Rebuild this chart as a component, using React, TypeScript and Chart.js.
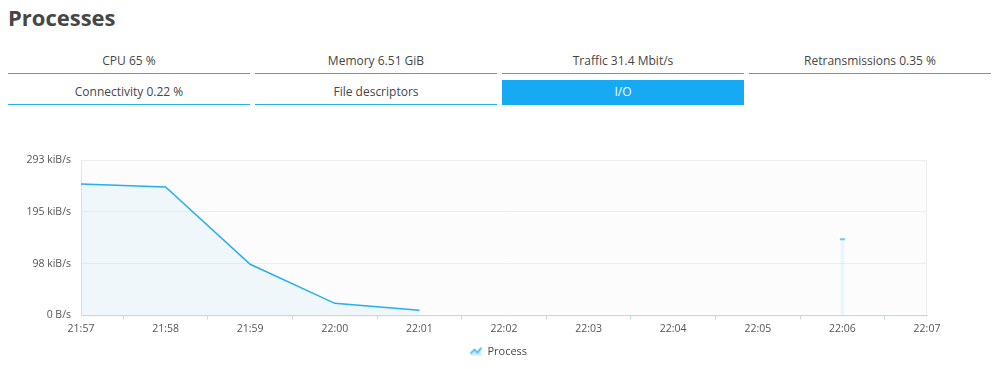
import React, { useEffect, useRef } from "react";
import { Chart, registerables } from "chart.js";

Chart.register(...registerables);

const tabsRow1 = ["CPU 65 %", "Memory 6.51 GiB", "Traffic 31.4 Mbit/s", "Retransmissions 0.35 %"];
const tabsRow2 = ["Connectivity 0.22 %", "File descriptors", "I/O"];
const activeTab = "I/O";

const timeLabels = ["21:57", "21:58", "21:59", "22:00", "22:01", "22:02", "22:03", "22:04", "22:05", "22:06", "22:07"];
const processValues: (number | null)[] = [247.6, 242, 96.4, 22.7, 9.5, null, null, null, null, 143.7, null];
const yTickValues = [0, 97.67, 195.33, 293];
const yTickLabels = ["0 B/s", "98 kiB/s", "195 kiB/s", "293 kiB/s"];
const seriesName = "Process";

const FONT = "'Open Sans', 'Noto Sans', sans-serif";
const BLUE = "#27aef0";

function makeLegendIcon() {
  const c = document.createElement("canvas");
  c.width = 14;
  c.height = 10;
  const g = c.getContext("2d")!;
  g.fillStyle = "rgba(39,174,240,0.25)";
  g.beginPath();
  g.moveTo(1, 9);
  g.lineTo(1, 7);
  g.lineTo(5, 3);
  g.lineTo(8, 6);
  g.lineTo(12, 1);
  g.lineTo(12, 9);
  g.closePath();
  g.fill();
  g.strokeStyle = BLUE;
  g.lineWidth = 1.3;
  g.beginPath();
  g.moveTo(1, 7);
  g.lineTo(5, 3);
  g.lineTo(8, 6);
  g.lineTo(12, 1);
  g.stroke();
  return c;
}

const areaPlugin = {
  id: "areaBg",
  beforeDraw(chart: any) {
    const { ctx, chartArea } = chart;
    if (!chartArea) return;
    ctx.save();
    ctx.fillStyle = "#fcfcfc";
    ctx.fillRect(chartArea.left, chartArea.top, chartArea.right - chartArea.left, chartArea.bottom - chartArea.top);
    ctx.strokeStyle = "#eeeeee";
    ctx.lineWidth = 1;
    ctx.strokeRect(chartArea.left + 0.5, chartArea.top + 0.5, chartArea.right - chartArea.left - 1, chartArea.bottom - chartArea.top);
    ctx.restore();
  },
};

function isolated(i: number) {
  const v = processValues[i];
  const prev = i > 0 ? processValues[i - 1] : null;
  const next = i < processValues.length - 1 ? processValues[i + 1] : null;
  return v !== null && prev === null && next === null;
}

function ChartView() {
  const ref = useRef<HTMLCanvasElement | null>(null);
  useEffect(() => {
    if (!ref.current) return;
    const icon = makeLegendIcon();
    const chart = new Chart(ref.current, {
      type: "line",
      data: {
        labels: timeLabels,
        datasets: [
          {
            type: "line",
            label: seriesName,
            data: processValues,
            borderColor: BLUE,
            borderWidth: 1.5,
            backgroundColor: "rgba(39,174,240,0.06)",
            fill: "origin",
            tension: 0,
            spanGaps: false,
            pointRadius: processValues.map((_v, i) => (isolated(i) ? 2.5 : 0)),
            pointStyle: "line",
            pointBorderColor: "#6cc6f4",
            pointBorderWidth: 2,
            pointHoverRadius: 0,
          } as any,
          {
            type: "bar",
            label: "_isolated",
            data: processValues.map((v, i) => (isolated(i) ? v : null)),
            backgroundColor: "rgba(39,174,240,0.08)",
            barThickness: 3,
          } as any,
        ],
      },
      options: {
        animation: false,
        responsive: false,
        maintainAspectRatio: false,
        layout: { padding: { left: 0, right: 0, top: 38, bottom: 4 } },
        plugins: {
          tooltip: { enabled: false },
          legend: {
            position: "bottom",
            labels: {
              usePointStyle: true,
              font: { family: FONT, size: 11 },
              color: "#454646",
              padding: 8,
              generateLabels: () => [
                {
                  text: seriesName,
                  pointStyle: icon,
                  fillStyle: BLUE,
                  strokeStyle: BLUE,
                  lineWidth: 0,
                  fontColor: "#454646",
                  datasetIndex: 0,
                  hidden: false,
                } as any,
              ],
            },
          },
        },
        scales: {
          x: {
            type: "category",
            offset: false,
            grid: {
              drawOnChartArea: false,
              drawTicks: true,
              tickLength: 4,
              color: "#ccd6eb",
            },
            border: { color: "#ccd6eb", width: 1 },
            ticks: {
              color: "#555555",
              font: { family: FONT, size: 10.5 },
              maxRotation: 0,
              autoSkip: false,
              padding: 3,
            },
          },
          y: {
            min: 0,
            max: 293,
            afterBuildTicks: (axis: any) => {
              axis.ticks = yTickValues.map((v) => ({ value: v }));
            },
            afterFit: (axis: any) => {
              axis.width = 81;
            },
            grid: { color: "#eeeeee", drawTicks: false },
            border: { display: true, color: "#dfe5f0" },
            ticks: {
              color: "#555555",
              font: { family: FONT, size: 10.5 },
              padding: 10,
              callback: (_v: any, i: number) => yTickLabels[i],
            },
          },
          yRight: {
            position: "right",
            min: 0,
            max: 293,
            afterFit: (axis: any) => {
              axis.width = 71;
            },
            grid: { display: false, drawOnChartArea: false },
            border: { display: false },
            ticks: { display: false },
          },
        },
      },
      plugins: [areaPlugin],
    });
    return () => chart.destroy();
  }, []);
  return <canvas ref={ref} width={998} height={249} style={{ display: "block" }} />;
}

function Tab({ label }: { label: string }) {
  const active = label === activeTab;
  return (
    <div
      style={{
        flex: "0 0 242px",
        height: 25,
        lineHeight: "24px",
        textAlign: "center",
        fontSize: 12,
        color: active ? "#ffffff" : "#454646",
        background: active ? "#16a9f4" : "transparent",
        borderBottom: active ? "1px solid #16a9f4" : "1px solid #27aef0",
        boxSizing: "border-box",
      }}
    >
      {label}
    </div>
  );
}

export default function App() {
  return (
    <div
      style={{
        position: "absolute",
        left: 0,
        top: 0,
        width: 998,
        height: 369,
        background: "#ffffff",
        fontFamily: FONT,
        overflow: "hidden",
      }}
    >
      <div style={{ position: "absolute", left: 8, top: 2, fontSize: 22, fontWeight: 700, color: "#454646", lineHeight: "30px" }}>
        Processes
      </div>
      <div style={{ position: "absolute", left: 8, top: 49, display: "flex", gap: 5 }}>
        {tabsRow1.map((t) => (
          <Tab key={t} label={t} />
        ))}
      </div>
      <div style={{ position: "absolute", left: 8, top: 80, display: "flex", gap: 5 }}>
        {tabsRow2.map((t) => (
          <Tab key={t} label={t} />
        ))}
      </div>
      <div style={{ position: "absolute", left: 0, top: 122 }}>
        <ChartView />
      </div>
    </div>
  );
}
